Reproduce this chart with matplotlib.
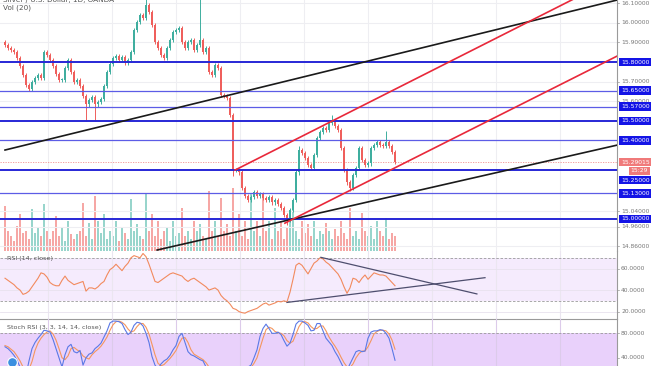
import numpy as np
import matplotlib.pyplot as plt
from matplotlib.transforms import blended_transform_factory
from matplotlib.lines import Line2D

# daily closes, one per candle
closes = [
    15.887, 15.871, 15.861, 15.851, 15.820, 15.779, 15.734, 15.682, 15.662, 15.698,
    15.718, 15.734, 15.718, 15.851, 15.836, 15.810, 15.779, 15.739, 15.708, 15.708,
    15.769, 15.810, 15.749, 15.698, 15.708, 15.677, 15.626, 15.585, 15.606, 15.621,
    15.585, 15.596, 15.611, 15.677, 15.749, 15.790, 15.820, 15.830, 15.810, 15.825,
    15.795, 15.810, 15.851, 15.963, 16.004, 16.040, 16.024, 16.091, 16.055, 15.989,
    15.902, 15.871, 15.836, 15.820, 15.871, 15.912, 15.953, 15.963, 15.973, 15.902,
    15.871, 15.902, 15.912, 15.861, 15.887, 15.912, 15.851, 15.871, 15.749, 15.734,
    15.785, 15.769, 15.631, 15.626, 15.616, 15.529, 15.249, 15.249, 15.238, 15.157,
    15.116, 15.096, 15.111, 15.136, 15.116, 15.126, 15.106, 15.096, 15.111, 15.085,
    15.096, 15.075, 15.055, 15.019, 14.994, 15.045, 15.096, 15.238, 15.351, 15.336,
    15.310, 15.274, 15.259, 15.325, 15.412, 15.443, 15.463, 15.453, 15.489, 15.494,
    15.473, 15.453, 15.361, 15.249, 15.187, 15.157, 15.223, 15.259, 15.361, 15.300,
    15.274, 15.284, 15.361, 15.376, 15.392, 15.376, 15.371, 15.392, 15.371, 15.341,
    15.29015]
first_open = 15.90
# notable wick extremes {candle: price}
high_wicks = {47: 16.12, 65: 16.12, 109: 15.53, 127: 15.45, 98: 15.37}
low_wicks = {27: 15.50, 30: 15.50, 76: 15.22, 94: 14.97, 115: 15.14}

volumes = [
    45, 20, 15, 10, 25, 37, 18, 20, 12, 42, 18, 23, 15, 47, 20, 12, 20, 35, 15, 23,
    10, 30, 17, 12, 17, 20, 48, 15, 28, 12, 55, 30, 18, 37, 12, 20, 15, 30, 10, 23,
    18, 12, 52, 20, 27, 15, 12, 57, 20, 37, 15, 30, 12, 20, 23, 10, 30, 15, 18, 43,
    15, 20, 12, 30, 20, 27, 15, 12, 60, 20, 30, 15, 53, 20, 27, 15, 63, 20, 37, 15,
    30, 12, 57, 20, 30, 15, 53, 20, 30, 12, 43, 20, 30, 12, 23, 40, 50, 20, 12, 30,
    18, 27, 15, 30, 12, 20, 17, 28, 20, 12, 22, 15, 30, 18, 12, 43, 15, 20, 12, 38,
    20, 15, 25, 12, 30, 20, 15, 33, 12, 18, 15]

rsi = [
    51, 49, 47, 45, 42, 40, 36, 37, 39, 43, 47, 51, 56, 55, 52, 47, 45, 44, 44, 49,
    53, 49, 47, 45, 46, 47, 48, 39, 42, 42, 41, 43, 46, 48, 54, 59, 61, 64, 61, 58,
    62, 65, 70, 72, 71, 70, 74, 71, 64, 56, 48, 47, 49, 51, 53, 55, 56, 55, 54, 53,
    50, 48, 50, 51, 49, 47, 45, 43, 40, 41, 42, 40, 35, 32, 30, 27, 23, 22, 20, 19,
    18.5, 20, 21, 22, 23, 25, 27, 28, 26, 27, 28, 29.5, 29, 30, 29, 38, 50, 63, 65, 63,
    59, 55, 60, 65, 67, 70, 69, 66, 64, 61, 58, 55, 50, 43, 37, 42, 51, 50, 47, 51,
    54, 50, 53, 56, 55, 54, 54, 53, 50, 47, 44]

stoch_k = [
    58, 55, 50, 44, 36, 25, 15, 12, 35, 55, 65, 72, 78, 85, 84, 82, 70, 55, 40, 25,
    45, 58, 62, 50, 48, 52, 28, 40, 46, 48, 55, 59, 64, 74, 84, 97, 100, 100, 99, 96,
    86, 78, 82, 93, 98, 97, 92, 80, 65, 42, 28, 22, 30, 35, 38, 44, 53, 60, 75, 80,
    65, 50, 45, 43, 40, 37, 35, 25, 15, 10, 8, 5, 3, 2, 1, 0, 0, 2, 5, 10,
    18, 25, 28, 40, 53, 75, 88, 95, 88, 80, 80, 82, 78, 68, 59, 64, 78, 95, 100, 100,
    97, 93, 84, 85, 96, 96, 84, 72, 66, 60, 50, 42, 32, 22, 20, 30, 40, 50, 52, 50,
    51, 72, 82, 84, 84, 86, 85, 80, 72, 55, 36]

stoch_d = [
    60, 58, 54, 50, 43, 35, 25, 17, 21, 34, 52, 64, 72, 78, 82, 84, 79, 69, 55, 40,
    37, 43, 55, 57, 53, 50, 43, 40, 38, 45, 50, 54, 59, 66, 74, 85, 94, 99, 100, 98,
    94, 87, 82, 84, 91, 96, 96, 90, 79, 62, 45, 31, 27, 29, 34, 39, 45, 52, 63, 72,
    73, 65, 53, 46, 43, 40, 37, 32, 25, 17, 11, 8, 5, 3, 2, 1, 0, 1, 2, 6,
    11, 18, 24, 31, 40, 56, 72, 86, 90, 88, 83, 81, 80, 76, 68, 64, 67, 79, 91, 98,
    99, 97, 91, 87, 88, 92, 92, 84, 74, 66, 59, 51, 41, 32, 25, 24, 30, 40, 47, 51,
    51, 58, 68, 79, 83, 85, 85, 84, 79, 69, 54]

levels_major = [15.80, 15.50, 15.25, 15.00]
levels_minor = [15.65, 15.57, 15.40, 15.13]
price_ticks = [16.10, 16.00, 15.90, 15.70, 15.60, 15.04, 14.96, 14.86]

# trend lines: (candle, price) anchors
black_lines = [((0, 15.351), (204, 16.116)), ((50.7, 14.841), (204, 15.376))]
red_lines = [((76.7, 15.249), (204, 16.233)), ((93.3, 14.978), (204, 15.830))]
rsi_lines = [((105.3, 70.4), (157.3, 36.4)), ((94, 28.5), (160, 51.5))]

UP, DOWN = '#3fae9f', '#ef5f5c'
VUP, VDOWN = '#98d5cc', '#f6a7a5'
LVL = '#2727d6'
GRID = '#eeeef2'

n = len(closes)
idx = np.arange(n)
opens = np.array([first_open] + closes[:-1])
closes_a = np.array(closes)
up = closes_a >= opens
wick = 0.012
highs = np.maximum(opens, closes_a) + wick
lows = np.minimum(opens, closes_a) - wick
for k, v in high_wicks.items():
    highs[k] = v
for k, v in low_wicks.items():
    lows[k] = v

W, H = 654, 366
fig = plt.figure(figsize=(W / 100, H / 100), dpi=100)
pw = 617 / W
ax = fig.add_axes([0, 1 - 251 / H, pw, 251 / H])
ax_vol = ax.twinx()
ax_rsi = fig.add_axes([0, 1 - 319 / H, pw, 68 / H])
ax_st = fig.add_axes([0, 0, pw, 47 / H])

xlim = (-1.67, 204)
grid_x = [14.3, 35.7, 57, 78.3, 99.7, 121, 142.3, 163.7, 185]

# volume
ax_vol.bar(idx, volumes, width=0.8, color=[VUP if u else VDOWN for u in up], linewidth=0)
ax_vol.set_ylim(0, max(volumes) * 4.0)
ax_vol.axis('off')
ax.set_zorder(ax_vol.get_zorder() + 1)
ax.patch.set_visible(False)

# candles
ccol = [UP if u else DOWN for u in up]
ax.vlines(idx, lows, highs, colors=ccol, linewidth=0.7, zorder=3)
body_h = np.maximum(np.abs(closes_a - opens), 0.004)
ax.bar(idx, body_h, bottom=np.minimum(opens, closes_a), width=0.85, color=ccol,
       linewidth=0, zorder=4)

ax.set_xlim(*xlim)
ax.set_ylim(14.836, 16.1163)
for gx in grid_x:
    ax.axvline(gx, color=GRID, lw=0.8, zorder=0)
for p in price_ticks:
    ax.axhline(p, color=GRID, lw=0.8, zorder=0)
for lv in levels_major:
    ax.axhline(lv, color=LVL, lw=1.4, zorder=5)
for lv in levels_minor:
    ax.axhline(lv, color='#5c5ce6', lw=0.9, zorder=5)
ax.axhline(closes[-1], color='#f09090', lw=0.6, ls=(0, (1.5, 1.5)), zorder=2)
for (x0, y0), (x1, y1) in black_lines:
    ax.plot([x0, x1], [y0, y1], color='#1a1a1a', lw=1.2, zorder=6)
for (x0, y0), (x1, y1) in red_lines:
    ax.plot([x0, x1], [y0, y1], color='#e8283a', lw=1.2, zorder=6)

# right price scale labels
tr = blended_transform_factory(ax.transAxes, ax.transData)
lab = dict(fontsize=4.3, va='center', ha='left', transform=tr, clip_on=False)
for p in price_ticks:
    ax.text(1.0065, p, f'{p:.5f}', color='#777777', zorder=1, **lab)
    ax.plot([1.0, 1.004], [p, p], color='#999999', lw=0.5, transform=tr, clip_on=False)
box_pos = {15.80: 15.80, 15.65: 15.655, 15.57: 15.573, 15.50: 15.50, 15.40: 15.40,
           15.25: 15.198, 15.13: 15.13, 15.00: 15.00}
for lv, yp in box_pos.items():
    ax.text(1.0065, yp, f'{lv:.5f}', color='white', zorder=10,
            bbox=dict(boxstyle='square,pad=0.28', fc='#1414e6', ec='none'), **lab)
ax.text(1.0065, 15.2885, f'{closes[-1]:.5f}', color='white', zorder=10,
        bbox=dict(boxstyle='square,pad=0.28', fc='#f07a7a', ec='none'), **lab)
ax.text(1.022, 15.245, '15:29', color='white', zorder=10,
        bbox=dict(boxstyle='square,pad=0.28', fc='#f07a7a', ec='none'), **lab)

ax.set_xticks([])
ax.set_yticks([])
for s in ['top', 'left', 'bottom']:
    ax.spines[s].set_visible(False)
ax.spines['right'].set_color('#9a9a9a')
ax.spines['right'].set_linewidth(0.8)

# RSI panel
ax_rsi.set_xlim(*xlim)
ax_rsi.set_ylim(13.1, 76.3)
ax_rsi.axhspan(30, 70, color='#f5ebfd', lw=0, zorder=0)
for gx in grid_x:
    ax_rsi.axvline(gx, color='#ebe6f0', lw=0.8, zorder=0)
for g in [60, 40, 20]:
    ax_rsi.axhline(g, color='#e8e2ee', lw=0.6, zorder=0)
for g in [70, 30]:
    ax_rsi.axhline(g, color='#9a9a9a', lw=0.6, ls=(0, (3, 2)), zorder=1)
ax_rsi.plot(idx, rsi, color='#f28a5e', lw=0.8, zorder=3)
for (x0, y0), (x1, y1) in rsi_lines:
    ax_rsi.plot([x0, x1], [y0, y1], color='#4e4e6e', lw=0.9, zorder=4)
ax_rsi.text(0.012, 0.93, 'RSI (14, close)', transform=ax_rsi.transAxes,
            fontsize=4.6, color='#555555', va='top')
trr = blended_transform_factory(ax_rsi.transAxes, ax_rsi.transData)
for g in [60, 40, 20]:
    ax_rsi.text(1.0065, g, f'{g:.4f}', color='#777777', fontsize=4.3, va='center',
                transform=trr, clip_on=False)
    ax_rsi.plot([1.0, 1.004], [g, g], color='#999999', lw=0.5, transform=trr, clip_on=False)

# Stoch RSI panel
ax_st.set_xlim(*xlim)
ax_st.set_ylim(26.6, 103.4)
ax_st.axhspan(20, 80, color='#e9d1fb', lw=0, zorder=0)
for gx in grid_x:
    ax_st.axvline(gx, color='#dccbea', lw=0.8, zorder=0)
ax_st.axhline(80, color='#9a9a9a', lw=0.6, ls=(0, (3, 2)), zorder=1)
ax_st.plot(idx, stoch_d, color='#f5965e', lw=0.8, zorder=3)
ax_st.plot(idx, stoch_k, color='#5a78e6', lw=0.8, zorder=4)
ax_st.text(0.012, 0.88, 'Stoch RSI (3, 3, 14, 14, close)', transform=ax_st.transAxes,
           fontsize=4.6, color='#555555', va='top')
trs = blended_transform_factory(ax_st.transAxes, ax_st.transData)
for g in [80, 40]:
    ax_st.text(1.0065, g, f'{g:.4f}', color='#777777', fontsize=4.3, va='center',
               transform=trs, clip_on=False)
    ax_st.plot([1.0, 1.004], [g, g], color='#999999', lw=0.5, transform=trs, clip_on=False)

for a in (ax_rsi, ax_st):
    a.set_xticks([])
    a.set_yticks([])
    a.patch.set_alpha(0)
    for s in ['left', 'bottom']:
        a.spines[s].set_visible(False)
    for s in ['top', 'right']:
        a.spines[s].set_color('#9a9a9a')
        a.spines[s].set_linewidth(0.8)
ax_rsi.spines['top'].set_visible(False)
ax_rsi.spines['bottom'].set_visible(True)
ax_rsi.spines['bottom'].set_color('#9a9a9a')
ax_st.spines['top'].set_visible(False)

# header texts (the first one is cut by the top edge, as in the screenshot) and logo
fig.text(3 / W, 1.0, 'Silver / U.S. Dollar, 1D, OANDA', fontsize=5.2, color='#555555',
         va='center')
fig.text(3 / W, 1 - 8 / H, 'Vol (20)', fontsize=5.2, color='#555555', va='center')
fig.add_artist(Line2D([12 / W], [4 / H], marker='o', ms=7, color='#3b8fe0',
                      mec='white', mew=0.8, transform=fig.transFigure))

fig.savefig('out.png', dpi=100)
